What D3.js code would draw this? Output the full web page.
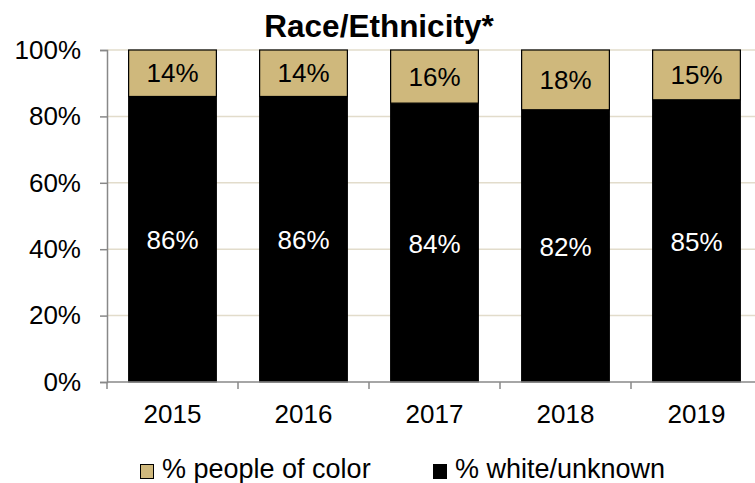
<!DOCTYPE html>
<html><head><meta charset="utf-8">
<script src="https://cdn.jsdelivr.net/npm/d3@7"></script>
<style>body{margin:0;background:#fff}svg{display:block}text{font-family:"Liberation Sans",Arial,Helvetica,sans-serif}</style>
</head><body>
<script>
const years = ["2015","2016","2017","2018","2019"];
const peopleOfColor = [14,14,16,18,15];
const whiteUnknown = [86,86,84,82,85];
const yTicks = [0,20,40,60,80,100];
const seriesNames = ["% people of color","% white/unknown"];
const colors = {poc:"#cfb87c", white:"#000000"};

const W=755,H=483;
const svg=d3.select("body").append("svg").attr("width",W).attr("height",H);
const x=d3.scaleBand().domain(years).range([107,762]).paddingInner(0.33).paddingOuter(0.165);
const y=d3.scaleLinear().domain([0,100]).range([382,50]);
const FS=26;

// gridlines
svg.append("g").selectAll("line").data(yTicks.filter(d=>d>0)).join("line")
  .attr("x1",107).attr("x2",W).attr("y1",d=>y(d)).attr("y2",d=>y(d))
  .attr("stroke","#e2dccb").attr("stroke-width",1.5);

// bars
const g=svg.append("g");
years.forEach((yr,i)=>{
  g.append("rect").attr("x",x(yr)).attr("width",x.bandwidth())
    .attr("y",y(whiteUnknown[i])).attr("height",y(0)-y(whiteUnknown[i]))
    .attr("fill",colors.white).attr("stroke","#000");
  g.append("rect").attr("x",x(yr)).attr("width",x.bandwidth())
    .attr("y",y(100)).attr("height",y(whiteUnknown[i])-y(100))
    .attr("fill",colors.poc).attr("stroke","#000").attr("stroke-width",1.2);
  g.append("text").attr("x",x(yr)+x.bandwidth()/2).attr("y",(y(100)+y(whiteUnknown[i]))/2+9)
    .attr("text-anchor","middle").attr("font-size",FS).attr("fill","#000").text(peopleOfColor[i]+"%");
  g.append("text").attr("x",x(yr)+x.bandwidth()/2).attr("y",(y(0)+y(whiteUnknown[i]))/2+10)
    .attr("text-anchor","middle").attr("font-size",FS).attr("fill","#fff").text(whiteUnknown[i]+"%");
});

// y axis
const ya=svg.append("g").attr("transform","translate(107,0)")
  .call(d3.axisLeft(y).tickValues(yTicks).tickFormat(d=>d+"%").tickSize(7).tickPadding(19));
ya.select(".domain").attr("stroke","#888").attr("stroke-width",1.5);
ya.selectAll(".tick line").attr("stroke","#888").attr("stroke-width",1.5);
ya.selectAll("text").attr("font-size",FS).attr("fill","#000").attr("font-family","Liberation Sans, Arial, sans-serif");

// x axis
const xa=svg.append("g").attr("transform","translate(0,382)")
  .call(d3.axisBottom(x).tickSize(0).tickPadding(23));
xa.select(".domain").remove();
xa.selectAll("text").attr("font-size",FS).attr("fill","#000").attr("font-family","Liberation Sans, Arial, sans-serif");
svg.append("line").attr("x1",107).attr("x2",W).attr("y1",382).attr("y2",382).attr("stroke","#888").attr("stroke-width",1.5);
const bounds=[107].concat(years.map(d=>x(d)-x.step()*x.paddingInner()/2+x.step()).slice(0,4));
svg.append("g").selectAll("line").data(bounds).join("line")
  .attr("x1",d=>d).attr("x2",d=>d).attr("y1",382).attr("y2",389).attr("stroke","#888").attr("stroke-width",1.5);

// title
svg.append("text").attr("x",379).attr("y",37).attr("text-anchor","middle")
  .attr("font-size",31.5).attr("font-weight","bold").text("Race/Ethnicity*");

// legend
const leg=[{name:seriesNames[0],c:colors.poc,x:140},{name:seriesNames[1],c:colors.white,x:433}];
leg.forEach(l=>{
  svg.append("rect").attr("x",l.x+0.5).attr("y",464.5).attr("width",13).attr("height",14).attr("fill",l.c).attr("stroke","#000").attr("stroke-width",1);
  svg.append("text").attr("x",l.x+22).attr("y",478).attr("font-size",27).text(l.name);
});
</script>
</body></html>
